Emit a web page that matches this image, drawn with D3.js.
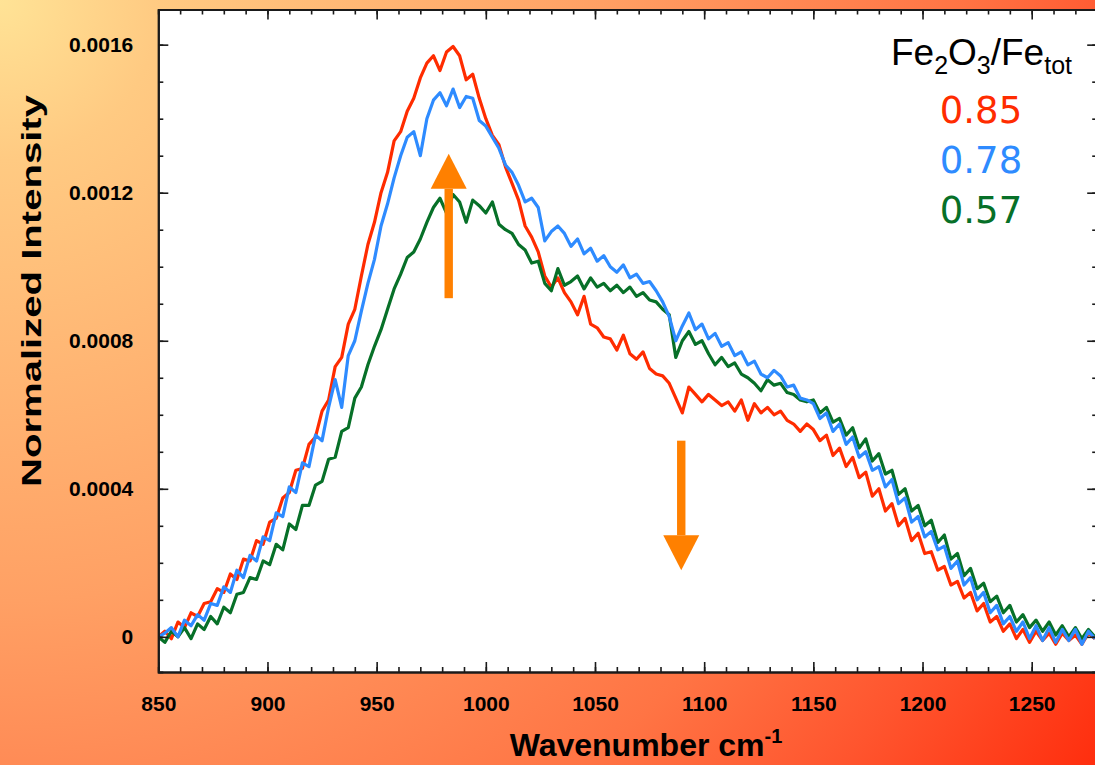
<!DOCTYPE html>
<html><head><meta charset="utf-8">
<script src="https://cdn.jsdelivr.net/npm/d3@7"></script>
<style>html,body{margin:0;padding:0;overflow:hidden;background:#fff}</style>
</head><body><svg id="c" width="1095" height="765"></svg>
<script>
// Wavenumber (cm-1) sampling positions
const wavenumber = [850,853,856,859,862,865,868,871,874,877,880,883,886,889,892,895,898,901,904,907,910,913,916,919,922,925,928,931,934,937,940,943,946,949,952,955,958,961,964,967,970,973,976,979,982,985,988,991,994,997,1000,1003,1006,1009,1012,1015,1018,1021,1024,1027,1030,1033,1036,1039,1042,1045,1048,1051,1054,1057,1060,1063,1066,1069,1072,1075,1078,1081,1084,1087,1090,1093,1096,1099,1102,1105,1108,1111,1114,1117,1120,1123,1126,1129,1132,1135,1138,1141,1144,1147,1150,1153,1156,1159,1162,1165,1168,1171,1174,1177,1180,1183,1186,1189,1192,1195,1198,1201,1204,1207,1210,1213,1216,1219,1222,1225,1228,1231,1234,1237,1240,1243,1246,1249,1252,1255,1258,1261,1264,1267,1270,1273,1276,1279];
// Normalized intensity, in units of 1e-4
const series085 = [0.00,0.15,-0.05,0.40,0.25,0.65,0.55,0.90,0.95,1.30,1.20,1.70,1.55,2.10,2.05,2.60,2.50,3.10,3.20,3.75,3.90,4.50,4.55,5.20,5.40,6.10,6.40,7.30,7.55,8.45,8.85,9.75,10.60,11.20,12.00,12.55,13.40,13.65,14.20,14.55,15.10,15.50,15.70,15.30,15.80,15.95,15.70,15.05,15.20,14.55,14.00,13.55,13.30,12.70,12.25,11.80,11.10,10.80,10.40,9.75,9.45,9.70,9.30,9.05,8.70,9.20,8.45,8.35,8.10,8.05,7.75,8.15,7.65,7.50,7.70,7.25,7.10,7.05,6.85,6.45,6.05,6.75,6.55,6.35,6.55,6.40,6.25,6.35,6.10,6.40,5.85,6.30,6.05,6.20,6.00,6.10,5.85,5.75,5.55,5.75,5.60,5.30,5.45,4.90,5.10,4.60,4.85,4.30,4.45,3.80,4.00,3.40,3.60,3.00,3.20,2.60,2.80,2.25,2.30,1.80,1.90,1.40,1.50,1.05,1.20,0.70,0.90,0.40,0.55,0.15,0.35,-0.05,0.20,-0.15,0.15,-0.10,0.10,-0.20,0.10,-0.10,0.05,-0.20,0.10,-0.05];
const series078 = [0.00,0.10,0.25,0.00,0.45,0.30,0.60,0.45,0.90,0.85,1.35,1.20,1.80,1.60,2.20,2.05,2.70,2.60,3.35,3.25,4.05,3.90,4.70,4.60,5.45,5.30,6.20,6.95,6.20,7.60,8.00,8.80,9.55,10.20,11.10,11.70,12.40,13.00,13.50,13.65,13.00,14.00,14.50,14.70,14.35,14.80,14.30,14.60,14.55,13.95,13.80,13.50,13.20,12.75,12.55,12.20,11.75,11.85,11.60,10.70,10.95,11.10,10.90,10.55,10.75,10.35,10.50,10.15,10.30,10.00,9.85,10.05,9.70,9.80,9.55,9.60,9.35,9.05,8.65,8.00,8.40,8.75,8.30,8.45,8.05,8.20,7.85,7.95,7.60,7.70,7.35,7.45,7.10,7.00,7.20,7.05,6.75,6.80,6.45,6.40,6.30,5.90,6.05,5.55,5.75,5.20,5.40,4.85,5.00,4.50,4.60,4.05,4.25,3.60,3.75,3.10,3.25,2.70,2.85,2.35,2.45,1.85,2.05,1.40,1.60,1.00,1.20,0.65,0.85,0.35,0.55,0.15,0.40,-0.05,0.30,-0.10,0.25,-0.15,0.20,-0.10,0.20,-0.20,0.15,-0.05];
const series057 = [0.00,-0.15,0.15,0.00,0.25,-0.05,0.35,0.20,0.55,0.35,0.80,0.65,1.15,1.20,1.60,1.55,2.05,1.95,2.50,2.35,3.05,2.90,3.55,3.55,4.10,4.20,4.80,4.85,5.55,5.65,6.45,6.75,7.35,7.85,8.30,8.85,9.40,9.80,10.25,10.40,10.75,11.20,11.60,11.85,11.45,11.95,11.75,11.20,11.80,11.65,11.45,11.75,11.15,11.00,10.90,10.60,10.45,10.10,10.15,9.55,9.35,9.95,9.50,9.60,9.75,9.40,9.70,9.45,9.55,9.35,9.50,9.30,9.45,9.20,9.30,9.10,9.05,8.85,8.70,7.55,8.00,8.25,7.90,8.00,7.65,7.35,7.55,7.30,7.40,7.10,7.00,6.85,6.65,6.95,6.80,6.85,6.60,6.55,6.40,6.35,6.40,6.05,6.20,5.80,5.90,5.45,5.65,5.10,5.35,4.75,4.95,4.40,4.50,3.85,4.00,3.40,3.55,3.00,3.15,2.55,2.75,2.10,2.25,1.65,1.85,1.30,1.45,0.95,1.10,0.65,0.85,0.40,0.60,0.25,0.45,0.15,0.40,0.05,0.30,0.00,0.25,-0.05,0.20,0.00];

const seriesLabels = ["0.85","0.78","0.57"];
const seriesColors = ["#ff2c00","#2e8bff","#077028"];
const xTickValues = [850,900,950,1000,1050,1100,1150,1200,1250];
const yTickValues = [0,4,8,12,16];
const yTickLabels = ["0","0.0004","0.0008","0.0012","0.0016"];
// Arrows: wavenumber, from, to (intensity units 1e-4)
const arrowX = [983, 1089.5];
const arrowFrom = [9.15, 5.3];
const arrowTo = [13.05, 1.8];

const svg = d3.select("#c");
const W = 1095, H = 765;
const defs = svg.append("defs");
const rg = defs.append("radialGradient").attr("id","bg").attr("gradientUnits","userSpaceOnUse")
  .attr("cx",0).attr("cy",0).attr("r",1336).attr("fx",0).attr("fy",0);
[[0,"#ffe396"],[0.12,"#ffca82"],[0.45,"#ffa064"],[0.58,"#ff8a55"],[0.72,"#ff7444"],[0.85,"#ff552e"],[1,"#ff2e0e"]]
  .forEach(s=>rg.append("stop").attr("offset",s[0]).attr("stop-color",s[1]));
svg.append("rect").attr("width",W).attr("height",H).attr("fill","url(#bg)");

const x = d3.scaleLinear().domain([850,1280]).range([158.3,1097.2]);
const y = d3.scaleLinear().domain([-0.95,16.95]).range([672,9.5]);
const [x0,x1] = x.range(), [y0,y1] = y.range();

defs.append("clipPath").attr("id","clip").append("rect")
  .attr("x",x0).attr("y",y1).attr("width",x1-x0).attr("height",y0-y1);

svg.append("rect").attr("x",x0).attr("y",y1).attr("width",x1-x0).attr("height",y0-y1).attr("fill","#fff");

const line = d3.line().x((d,i)=>x(wavenumber[i])).y(d=>y(d));
const g = svg.append("g").attr("clip-path","url(#clip)");
[[series085,0],[series057,2],[series078,1]].forEach(([s,idx])=>{
  g.append("path").datum(s).attr("d",line).attr("fill","none")
   .attr("stroke",seriesColors[idx]).attr("stroke-width",3.2).attr("stroke-linejoin","round");
});

// arrows
const arrowColor = "#ff8000";
arrowX.forEach((ax,i)=>{
  const px = x(ax), pf = y(arrowFrom[i]), pt = y(arrowTo[i]);
  const dir = pt < pf ? -1 : 1;
  const headLen = 35, headW = 18, shaftW = 4.2;
  const hb = pt - dir*headLen;
  g.append("rect").attr("x",px-shaftW).attr("width",shaftW*2)
    .attr("y",Math.min(pf,hb)).attr("height",Math.abs(hb-pf)).attr("fill",arrowColor);
  g.append("path").attr("d",`M${px-headW},${hb}L${px+headW},${hb}L${px},${pt}Z`).attr("fill",arrowColor);
});

// axes
const axisColor = "#1a1a1a";
const xMinor = d3.range(850,1281,10), yMinor = d3.range(0,17,1);
function styleAxis(sel){
  sel.selectAll("path.domain").attr("stroke",axisColor).attr("stroke-width",2);
  sel.selectAll(".tick line").attr("stroke",axisColor).attr("stroke-width",1.6);
  sel.selectAll("text").attr("fill","#000").attr("font-family","Liberation Sans, Arial, sans-serif")
    .attr("font-weight","bold").attr("font-size",21);
}
svg.append("g").attr("transform",`translate(0,${y0})`).call(d3.axisBottom(x).tickValues(xMinor).tickSize(-5).tickFormat("")).call(styleAxis);
svg.append("g").attr("transform",`translate(0,${y1})`).call(d3.axisTop(x).tickValues(xMinor).tickSize(-5).tickFormat("")).call(styleAxis);
svg.append("g").attr("transform",`translate(${x0},0)`).call(d3.axisLeft(y).tickValues(yMinor).tickSize(-5).tickFormat("")).call(styleAxis);
svg.append("g").attr("transform",`translate(${x1},0)`).call(d3.axisRight(y).tickValues(yMinor).tickSize(-5).tickFormat("")).call(styleAxis);
svg.append("g").attr("transform",`translate(0,${y0})`).call(d3.axisBottom(x).tickValues(xTickValues).tickSize(-10).tickSizeOuter(0).tickPadding(24).tickFormat(d3.format("d"))).call(styleAxis);
svg.append("g").attr("transform",`translate(0,${y1})`).call(d3.axisTop(x).tickValues(xTickValues).tickSize(-10).tickSizeOuter(0).tickFormat("")).call(styleAxis);
svg.append("g").attr("transform",`translate(${x0},0)`).call(d3.axisLeft(y).tickValues(yTickValues).tickSize(-10).tickSizeOuter(0).tickPadding(25).tickFormat((d,i)=>yTickLabels[i])).call(styleAxis);
svg.append("g").attr("transform",`translate(${x1},0)`).call(d3.axisRight(y).tickValues(yTickValues).tickSize(-10).tickSizeOuter(0).tickFormat("")).call(styleAxis);

// axis titles
const xt = svg.append("text").attr("x",646).attr("y",756).attr("text-anchor","middle")
  .attr("font-family","Liberation Sans, Arial, sans-serif").attr("font-weight","bold").attr("font-size",32).attr("fill","#000");
xt.append("tspan").text("Wavenumber cm");
xt.append("tspan").attr("dy",-13).attr("font-size",20).text("-1");
svg.append("text").attr("transform","translate(41,291) rotate(-90)").attr("text-anchor","middle")
  .attr("font-family","Liberation Sans, Arial, sans-serif").attr("font-weight","bold").attr("font-size",27).attr("fill","#000")
  .attr("textLength",392).attr("lengthAdjust","spacingAndGlyphs")
  .text("Normalized Intensity");

// legend
const lh = svg.append("text").attr("x",1072).attr("y",65).attr("text-anchor","end")
  .attr("font-family","Liberation Sans, Arial, sans-serif").attr("font-size",37).attr("fill","#000");
lh.append("tspan").text("Fe");
lh.append("tspan").attr("dy",9).attr("font-size",25).text("2");
lh.append("tspan").attr("dy",-9).text("O");
lh.append("tspan").attr("dy",9).attr("font-size",25).text("3");
lh.append("tspan").attr("dy",-9).text("/Fe");
lh.append("tspan").attr("dy",9).attr("font-size",25).text("tot");
seriesLabels.forEach((t,i)=>{
  svg.append("text").attr("x",981).attr("y",123+i*50).attr("text-anchor","middle")
    .attr("font-family","DejaVu Sans, Verdana, sans-serif").attr("font-size",37)
    .attr("fill",seriesColors[i]).text(t);
});
</script></body></html>
